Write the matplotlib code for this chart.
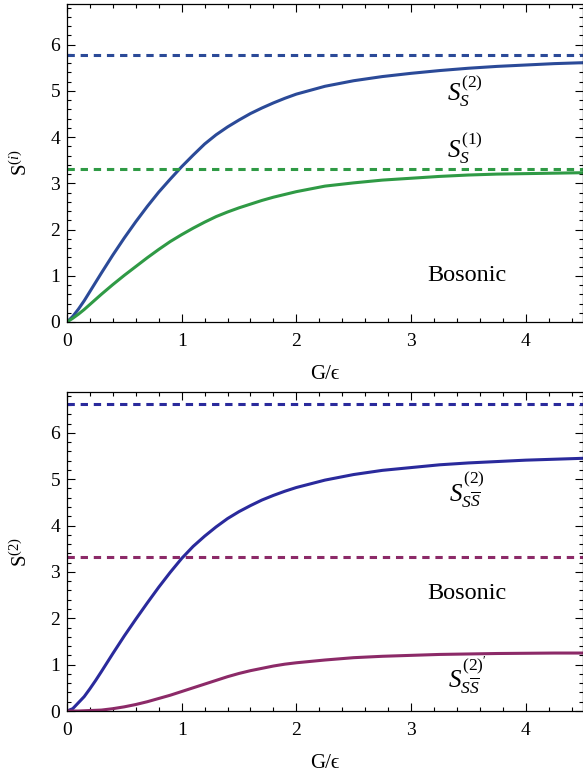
import numpy as np
import matplotlib
matplotlib.use('Agg')
import matplotlib.pyplot as plt
from matplotlib.ticker import MultipleLocator

plt.rcParams['font.family'] = ['Liberation Serif', 'DejaVu Serif']
plt.rcParams['mathtext.fontset'] = 'custom'
plt.rcParams['mathtext.rm'] = 'Liberation Serif'
plt.rcParams['mathtext.it'] = 'Liberation Serif:italic'

# G/eps sample points
g = [0, 0.05, 0.1, 0.15, 0.2, 0.25, 0.3, 0.4, 0.5, 0.6, 0.7, 0.8, 0.9, 1.0,
     1.1, 1.2, 1.3, 1.4, 1.5, 1.6, 1.7, 1.8, 1.9, 2.0, 2.25, 2.5, 2.75, 3.0,
     3.25, 3.5, 3.75, 4.0, 4.25, 4.5]

# top panel
s2_single = [0, 0.12, 0.28, 0.46, 0.66, 0.86, 1.06, 1.45, 1.82, 2.17, 2.50,
             2.81, 3.09, 3.36, 3.61, 3.85, 4.05, 4.22, 4.37, 4.51, 4.63, 4.74,
             4.84, 4.93, 5.10, 5.22, 5.31, 5.38, 5.44, 5.49, 5.53, 5.56, 5.59,
             5.61]
s1_single = [0, 0.08, 0.17, 0.27, 0.38, 0.49, 0.60, 0.81, 1.01, 1.20, 1.39,
             1.57, 1.74, 1.89, 2.03, 2.16, 2.28, 2.38, 2.47, 2.55, 2.63, 2.70,
             2.76, 2.82, 2.94, 3.01, 3.07, 3.11, 3.15, 3.18, 3.20, 3.21, 3.22,
             3.23]
s2_max = 5.77
s1_max = 3.31

# bottom panel
s2_pair = [0, 0.05, 0.18, 0.31, 0.48, 0.66, 0.85, 1.24, 1.62, 1.98, 2.33,
           2.67, 2.99, 3.29, 3.55, 3.77, 3.97, 4.15, 4.30, 4.43, 4.55, 4.65,
           4.74, 4.82, 4.98, 5.10, 5.19, 5.25, 5.31, 5.35, 5.38, 5.41, 5.43,
           5.45]
s2p_pair = [0, 0.0, 0.0, 0.005, 0.01, 0.015, 0.02, 0.05, 0.09, 0.14, 0.20,
            0.27, 0.34, 0.42, 0.50, 0.58, 0.66, 0.74, 0.81, 0.87, 0.92, 0.97,
            1.01, 1.04, 1.10, 1.15, 1.18, 1.20, 1.22, 1.23, 1.24, 1.245, 1.25,
            1.25]
s2_pair_max = 6.63
s2p_pair_max = 3.32

c_blue = '#2b4a98'
c_green = '#2f9a45'
c_navy = '#2a2a9c'
c_purple = '#8c2a68'

fig = plt.figure(figsize=(5.83, 7.8), dpi=100)
ax1 = fig.add_axes([67 / 583, 1 - 322 / 780, 516 / 583, 318 / 780])
ax2 = fig.add_axes([67 / 583, 1 - 711 / 780, 516 / 583, 319 / 780])

lw = 2.2
dash = (2.4, 1.9)


def style(ax, ylab):
    ax.set_xlim(0, 4.5)
    ax.set_ylim(0, 6.88)
    ax.xaxis.set_major_locator(MultipleLocator(1))
    ax.xaxis.set_minor_locator(MultipleLocator(0.2))
    ax.yaxis.set_major_locator(MultipleLocator(1))
    ax.yaxis.set_minor_locator(MultipleLocator(0.2))
    ax.tick_params(which='both', direction='in', top=True, right=True,
                   labelsize=14, width=0.8)
    ax.tick_params(which='major', length=6)
    ax.tick_params(which='minor', length=3)
    ax.tick_params(axis='x', which='major', pad=8)
    ax.tick_params(axis='y', which='major', pad=5)
    for sp in ax.spines.values():
        sp.set_linewidth(0.9)
    ax.set_xlabel('G/ϵ', fontsize=15, labelpad=11)
    ax.set_ylabel(ylab, fontsize=15, labelpad=13)


kw = dict(lw=lw, solid_joinstyle='round', solid_capstyle='round')
ax1.plot(g, s2_single, color=c_blue, **kw)
ax1.plot(g, s1_single, color=c_green, **kw)
ax1.axhline(s2_max, color=c_blue, lw=lw, dashes=dash)
ax1.axhline(s1_max, color=c_green, lw=lw, dashes=dash)
ax1.text(3.47, 5.0, r'$S_S^{(2)}$', fontsize=18, ha='center', va='center')
ax1.text(3.47, 3.76, r'$S_S^{(1)}$', fontsize=18, ha='center', va='center')
ax1.text(3.49, 1.0, 'Bosonic', fontsize=17.5, ha='center', va='center')
style(ax1, r'$\mathrm{S}^{(i)}$')

ax2.plot(g, s2_pair, color=c_navy, **kw)
ax2.plot(g, s2p_pair, color=c_purple, **kw)
ax2.axhline(s2_pair_max, color=c_navy, lw=lw, dashes=dash)
ax2.axhline(s2p_pair_max, color=c_purple, lw=lw, dashes=dash)
ax2.text(3.49, 4.77, r'$S_{S\overline{S}}^{(2)}$', fontsize=18, ha='center', va='center')
ax2.text(3.49, 0.78, r"$S_{S\overline{S}}^{(2)'}$", fontsize=18, ha='center', va='center')
ax2.text(3.49, 2.53, 'Bosonic', fontsize=17.5, ha='center', va='center')
style(ax2, r'$\mathrm{S}^{(2)}$')

fig.savefig('out.png', dpi=100)
